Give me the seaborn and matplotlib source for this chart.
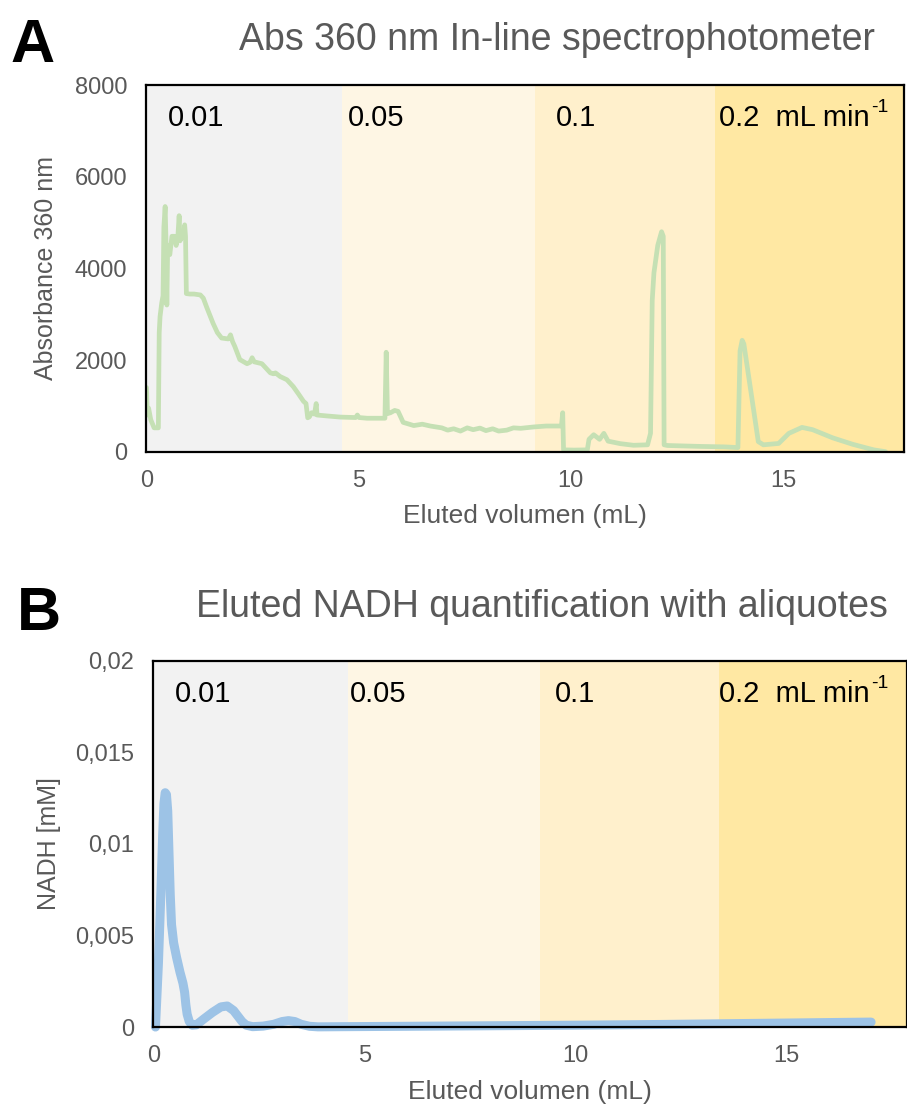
import matplotlib
matplotlib.use("Agg")
import matplotlib.pyplot as plt
import seaborn as sns
from matplotlib.ticker import FuncFormatter, FixedLocator

# ---------------- data ----------------
abs_volume = [0.00, 0.02, 0.05, 0.10, 0.18, 0.28, 0.30, 0.32, 0.36, 0.39, 0.41, 0.44, 0.46,
              0.48, 0.50, 0.55, 0.60, 0.66, 0.70, 0.74, 0.77, 0.79, 0.84, 0.88, 0.90, 0.92,
              0.94, 1.02, 1.12, 1.27, 1.34, 1.42, 1.57, 1.67, 1.77, 1.93, 1.98, 2.03, 2.08,
              2.20, 2.37, 2.44, 2.49, 2.54, 2.72, 2.84, 2.92, 2.99, 3.04, 3.15, 3.31, 3.46,
              3.59, 3.70, 3.76, 3.80, 3.84, 3.89, 3.96, 4.00, 4.02, 4.25, 4.57, 4.93, 4.97,
              5.01, 5.20, 5.62, 5.65, 5.68, 5.75, 5.85, 5.93, 6.05, 6.30, 6.50, 6.69, 6.96,
              7.10, 7.24, 7.40, 7.56, 7.70, 7.86, 8.00, 8.16, 8.30, 8.49, 8.65, 8.82, 9.13,
              9.42, 9.78, 9.81, 9.83, 10.08, 10.39, 10.43, 10.54, 10.68, 10.78, 10.88, 11.17,
              11.48, 11.81, 11.88, 11.92, 11.96, 12.05, 12.14, 12.18, 12.20, 12.28, 13.06,
              13.62, 13.94, 13.99, 14.04, 14.08, 14.42, 14.54, 14.90, 15.14, 15.45, 15.70,
              16.18, 16.65, 17.14, 17.42]
abs_360 = [1400, 800, 950, 700, 520, 520, 2600, 2950, 3250, 3400, 4900, 5350, 4600,
           3200, 4500, 4300, 4700, 4700, 4500, 4700, 5150, 4600, 4700, 4700, 4950, 4700,
           3450, 3440, 3440, 3420, 3350, 3150, 2800, 2600, 2480, 2460, 2550, 2400, 2300,
           2010, 1920, 1950, 2050, 1960, 1920, 1800, 1720, 1700, 1720, 1640, 1570, 1420,
           1250, 1100, 1050, 740, 760, 850, 820, 1050, 800, 780, 755, 745, 800,
           745, 730, 730, 2170, 830, 850, 900, 880, 640, 570, 600, 560, 520,
           470, 500, 450, 520, 480, 515, 460, 500, 450, 470, 520, 510, 540,
           560, 560, 850, 40, 35, 40, 270, 370, 270, 400, 230, 175,
           140, 150, 400, 3300, 3900, 4500, 4800, 4700, 150, 135, 115,
           105, 90, 2200, 2430, 2350, 220, 150, 180, 400, 530, 480,
           300, 160, 40, 0]

nadh_volume = [0.05, 0.12, 0.18, 0.22, 0.25, 0.28, 0.31, 0.34, 0.37, 0.40, 0.43, 0.48,
               0.55, 0.63, 0.70, 0.74, 0.77, 0.80, 0.85, 0.92, 1.02, 1.20, 1.40, 1.60,
               1.75, 1.90, 2.00, 2.10, 2.20, 2.35, 2.60, 2.85, 3.05, 3.20, 3.35, 3.50,
               3.70, 3.90, 4.50, 6.00, 8.00, 10.00, 12.00, 14.30, 17.00]
nadh_mm = [0.0, 0.0035, 0.0075, 0.0105, 0.0122, 0.0128, 0.0127, 0.0118, 0.0095, 0.0072,
           0.0056, 0.0046, 0.0038, 0.0030, 0.0024, 0.0019, 0.0012, 0.0007, 0.0003, 0.0001,
           0.00012, 0.00045, 0.0008, 0.0011, 0.00115, 0.0009, 0.0006, 0.0003, 0.0001,
           0.00002, 0.00005, 0.00015, 0.0003, 0.00035, 0.0003, 0.00015, 0.00004, 0.00001,
           0.00002, 0.00004, 0.00007, 0.0001, 0.00014, 0.0002, 0.00027]

band_edges = [0, 4.6, 9.15, 13.4, 17.85]
band_colors = ["#F2F2F2", "#FEF6E4", "#FFF0CC", "#FFE8A3"]
band_labels = ["0.01", "0.05", "0.1", "0.2  mL min"]
abs_label_x = [0.5, 4.75, 9.65, 13.5]
nadh_label_x = [0.5, 4.65, 9.5, 13.4]
x_ticks = [0, 5, 10, 15]
abs_ticks = [0, 2000, 4000, 6000, 8000]
nadh_ticks = [0, 0.005, 0.01, 0.015, 0.02]

# ---------------- style ----------------
sns.set_theme(style="white")
plt.rcParams['font.family'] = ['Liberation Sans', 'DejaVu Sans']
GREY = "#595959"

fig = plt.figure(figsize=(9.07, 11.06), dpi=100)
axA = fig.add_axes([0.1615, 0.5916, 0.835, 0.3315])
axB = fig.add_axes([0.1691, 0.0714, 0.8309, 0.331])

band_texts = []


def decorate(ax, label_x, ymax, yticks, ylabel, fmt, ylabelpad):
    for i in range(len(band_colors)):
        ax.axvspan(band_edges[i], band_edges[i + 1], color=band_colors[i], lw=0, zorder=0)
        t = ax.text(label_x[i], 0.91, band_labels[i], transform=ax.get_xaxis_transform(),
                    ha="left", va="center", fontsize=21, color="black", zorder=3)
        if i == len(band_colors) - 1:
            band_texts.append((ax, t))
    ax.set_xlim(band_edges[0], band_edges[-1])
    ax.set_ylim(0, ymax)
    ax.xaxis.set_major_locator(FixedLocator(x_ticks))
    ax.yaxis.set_major_locator(FixedLocator(yticks))
    ax.yaxis.set_major_formatter(FuncFormatter(fmt))
    ax.tick_params(axis="both", length=0, labelsize=17, labelcolor=GREY)
    ax.tick_params(axis="y", pad=14)
    ax.tick_params(axis="x", pad=13)
    ax.set_xlabel("Eluted volumen (mL)", fontsize=19, color=GREY, labelpad=9)
    ax.set_ylabel(ylabel, fontsize=18, color=GREY, labelpad=ylabelpad)
    for s in ax.spines.values():
        s.set_visible(True)
        s.set_color("black")
        s.set_linewidth(1.6)
        s.set_zorder(4)


sns.lineplot(x=abs_volume, y=abs_360, ax=axA, color="#C5E0B4", linewidth=3.4,
             estimator=None, sort=False, zorder=2, solid_joinstyle="round",
             solid_capstyle="round")
decorate(axA, abs_label_x, 8000, abs_ticks, "Absorbance 360 nm",
         lambda v, p: f"{int(v)}", 12)

sns.lineplot(x=nadh_volume, y=nadh_mm, ax=axB, color="#9DC3E6", linewidth=6.5,
             estimator=None, sort=False, zorder=2, solid_capstyle="round",
             solid_joinstyle="round")
decorate(axB, nadh_label_x, 0.02, nadh_ticks, "NADH [mM]",
         lambda v, p: "0" if v == 0 else f"{v:g}".replace(".", ","), 10)
for ln in axB.lines:
    ln.set_clip_on(False)

fig.text(0.614, 0.964, "Abs 360 nm In-line spectrophotometer", ha="center", va="center",
         fontsize=27, color=GREY)
fig.text(0.597, 0.451, "Eluted NADH quantification with aliquotes", ha="center",
         va="center", fontsize=27, color=GREY)
fig.text(0.012, 0.958, "A", ha="left", va="center", fontsize=44, fontweight="bold",
         color="black")
fig.text(0.019, 0.444, "B", ha="left", va="center", fontsize=44, fontweight="bold",
         color="black")

# superscript "-1" after "mL min"
fig.canvas.draw()
renderer = fig.canvas.get_renderer()
for ax, t in band_texts:
    bb = t.get_window_extent(renderer)
    fig.text((bb.x1 + 1) / fig.bbox.width, (bb.y1 - 12) / fig.bbox.height, "-1",
             ha="left", va="bottom", fontsize=14, color="black")

fig.savefig("out.png", dpi=100)
